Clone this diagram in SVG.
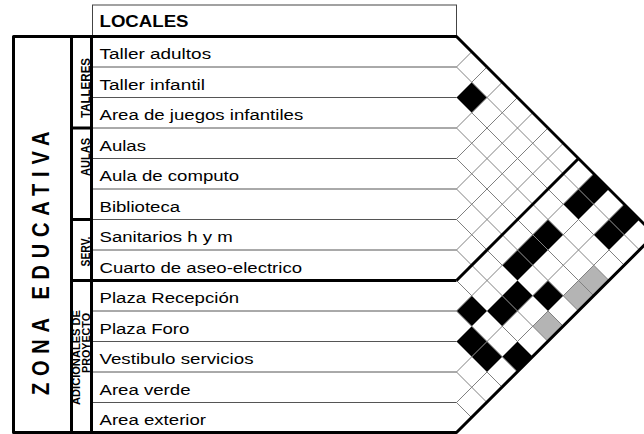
<svg xmlns="http://www.w3.org/2000/svg" width="644" height="434" viewBox="0 0 644 434">
<style>
.lbl{font-family:"Liberation Sans",Arial,sans-serif;font-size:15.5px;fill:#000}
.hdr{font-family:"Liberation Sans",Arial,sans-serif;font-size:16px;font-weight:bold;fill:#000}
.grp{font-family:"Liberation Sans",Arial,sans-serif;font-size:10.5px;font-weight:bold;fill:#000}
.zone{font-family:"Liberation Sans",Arial,sans-serif;font-size:20px;font-weight:bold;fill:#000}
.thin{stroke:#555;stroke-width:1;fill:none}
.grid{stroke:#808080;stroke-width:1;fill:none}
.thick{stroke:#000;stroke-width:3;fill:none}
.blk{fill:#000}
.gry{fill:#b4b4b4}
</style>
<rect width="644" height="434" fill="#fff"/>
<g id="header">
<rect x="92.5" y="5" width="364" height="31.5" fill="#fff" stroke="#444" stroke-width="1"/>
<text class="hdr" x="99.5" y="26.5" textLength="89" lengthAdjust="spacingAndGlyphs">LOCALES</text>
</g>
<g id="cells">
<polygon class="blk" points="456.5,97.5 471.75,82.25 487,97.5 471.75,112.75"/>
<polygon class="blk" points="578.5,189 593.75,173.75 609,189 593.75,204.25"/>
<polygon class="blk" points="563.25,204.25 578.5,189 593.75,204.25 578.5,219.5"/>
<polygon class="blk" points="532.75,234.75 548,219.5 563.25,234.75 548,250"/>
<polygon class="blk" points="517.5,250 532.75,234.75 548,250 532.75,265.25"/>
<polygon class="blk" points="502.25,265.25 517.5,250 532.75,265.25 517.5,280.5"/>
<polygon class="blk" points="609,219.5 624.25,204.25 639.5,219.5 624.25,234.75"/>
<polygon class="blk" points="593.75,234.75 609,219.5 624.25,234.75 609,250"/>
<polygon class="blk" points="532.75,295.75 548,280.5 563.25,295.75 548,311"/>
<polygon class="blk" points="502.25,295.75 517.5,280.5 532.75,295.75 517.5,311"/>
<polygon class="blk" points="487,311 502.25,295.75 517.5,311 502.25,326.25"/>
<polygon class="blk" points="456.5,311 471.75,295.75 487,311 471.75,326.25"/>
<polygon class="blk" points="456.5,341.5 471.75,326.25 487,341.5 471.75,356.75"/>
<polygon class="blk" points="471.75,356.75 487,341.5 502.25,356.75 487,372"/>
<polygon class="blk" points="502.25,356.75 517.5,341.5 532.75,356.75 517.5,372"/>
<polygon class="gry" points="578.5,280.5 593.75,265.25 609,280.5 593.75,295.75"/>
<polygon class="gry" points="563.25,295.75 578.5,280.5 593.75,295.75 578.5,311"/>
<polygon class="gry" points="532.75,326.25 548,311 563.25,326.25 548,341.5"/>
</g>
<g id="connectors">
<path class="grid" d="M456.5,67L471.75,51.75M456.5,97.5L487,67M456.5,128L502.25,82.25M456.5,158.5L517.5,97.5M456.5,189L532.75,112.75M456.5,219.5L548,128M456.5,250L563.25,143.25M456.5,311L593.75,173.75M456.5,341.5L609,189M456.5,372L624.25,204.25M456.5,402.5L639.5,219.5"/>
<path class="grid" d="M456.5,67L639.5,250M456.5,97.5L624.25,265.25M456.5,128L609,280.5M456.5,158.5L593.75,295.75M456.5,189L578.5,311M456.5,219.5L563.25,326.25M456.5,250L548,341.5M456.5,280.5L532.75,356.75M456.5,311L517.5,372M456.5,341.5L502.25,387.25M456.5,372L487,402.5M456.5,402.5L471.75,417.75"/>
<path class="thin" d="M92,67H456.5M92,97.5H456.5M92,128H456.5M92,158.5H456.5M92,189H456.5M92,219.5H456.5M92,250H456.5M92,311H456.5M92,341.5H456.5M92,372H456.5M92,402.5H456.5"/>
<path class="thick" d="M456.5,280.5L578.5,158.5"/>
<path class="thick" d="M71.5,280.5H456.5M71.5,128H91.5M71.5,219.5H91.5M71.5,36.5V433M91.5,36.5V433"/>
<path class="thick" stroke-linejoin="round" d="M13.5,36.5H456.5L654.75,234.75L456.5,432.5H13.5Z"/>
</g>
<g id="rows">
<text class="lbl" x="99.5" y="59.25" textLength="111.6" lengthAdjust="spacingAndGlyphs">Taller adultos</text>
<text class="lbl" x="99.5" y="89.75" textLength="105.4" lengthAdjust="spacingAndGlyphs">Taller infantil</text>
<text class="lbl" x="99.5" y="120.25" textLength="203.7" lengthAdjust="spacingAndGlyphs">Area de juegos infantiles</text>
<text class="lbl" x="99.5" y="150.75" textLength="46.5" lengthAdjust="spacingAndGlyphs">Aulas</text>
<text class="lbl" x="99.5" y="181.25" textLength="139.6" lengthAdjust="spacingAndGlyphs">Aula de computo</text>
<text class="lbl" x="99.5" y="211.75" textLength="80.6" lengthAdjust="spacingAndGlyphs">Biblioteca</text>
<text class="lbl" x="99.5" y="242.25" textLength="133.3" lengthAdjust="spacingAndGlyphs">Sanitarios h y m</text>
<text class="lbl" x="99.5" y="272.75" textLength="202.6" lengthAdjust="spacingAndGlyphs">Cuarto de aseo-electrico</text>
<text class="lbl" x="99.5" y="303.25" textLength="139.6" lengthAdjust="spacingAndGlyphs">Plaza Recepción</text>
<text class="lbl" x="99.5" y="333.75" textLength="89.9" lengthAdjust="spacingAndGlyphs">Plaza Foro</text>
<text class="lbl" x="99.5" y="364.25" textLength="154" lengthAdjust="spacingAndGlyphs">Vestibulo servicios</text>
<text class="lbl" x="99.5" y="394.75" textLength="91" lengthAdjust="spacingAndGlyphs">Area verde</text>
<text class="lbl" x="99.5" y="425.25" textLength="106.5" lengthAdjust="spacingAndGlyphs">Area exterior</text>
</g>
<g id="groups">
<text class="grp" text-anchor="middle" transform="translate(89.5,88) scale(1.2,1) rotate(-90)" textLength="60" lengthAdjust="spacingAndGlyphs">TALLERES</text>
<text class="grp" text-anchor="middle" transform="translate(89.5,157) scale(1.2,1) rotate(-90)" textLength="38" lengthAdjust="spacingAndGlyphs">AULAS</text>
<text class="grp" text-anchor="middle" transform="translate(89.5,251.5) scale(1.2,1) rotate(-90)" textLength="30" lengthAdjust="spacingAndGlyphs">SERV.</text>
<text class="grp" text-anchor="middle" transform="translate(80,357.5) scale(1.1,1) rotate(-90)" textLength="95" lengthAdjust="spacingAndGlyphs">ADICIONALES DE</text>
<text class="grp" text-anchor="middle" transform="translate(89.5,343) scale(1.1,1) rotate(-90)" textLength="60" lengthAdjust="spacingAndGlyphs">PROYECTO</text>
</g>
<g id="zone">
<text class="zone" transform="translate(49,395) scale(1.15,1) rotate(-90)" letter-spacing="6.8">ZONA EDUCATIVA</text>
</g>
</svg>
